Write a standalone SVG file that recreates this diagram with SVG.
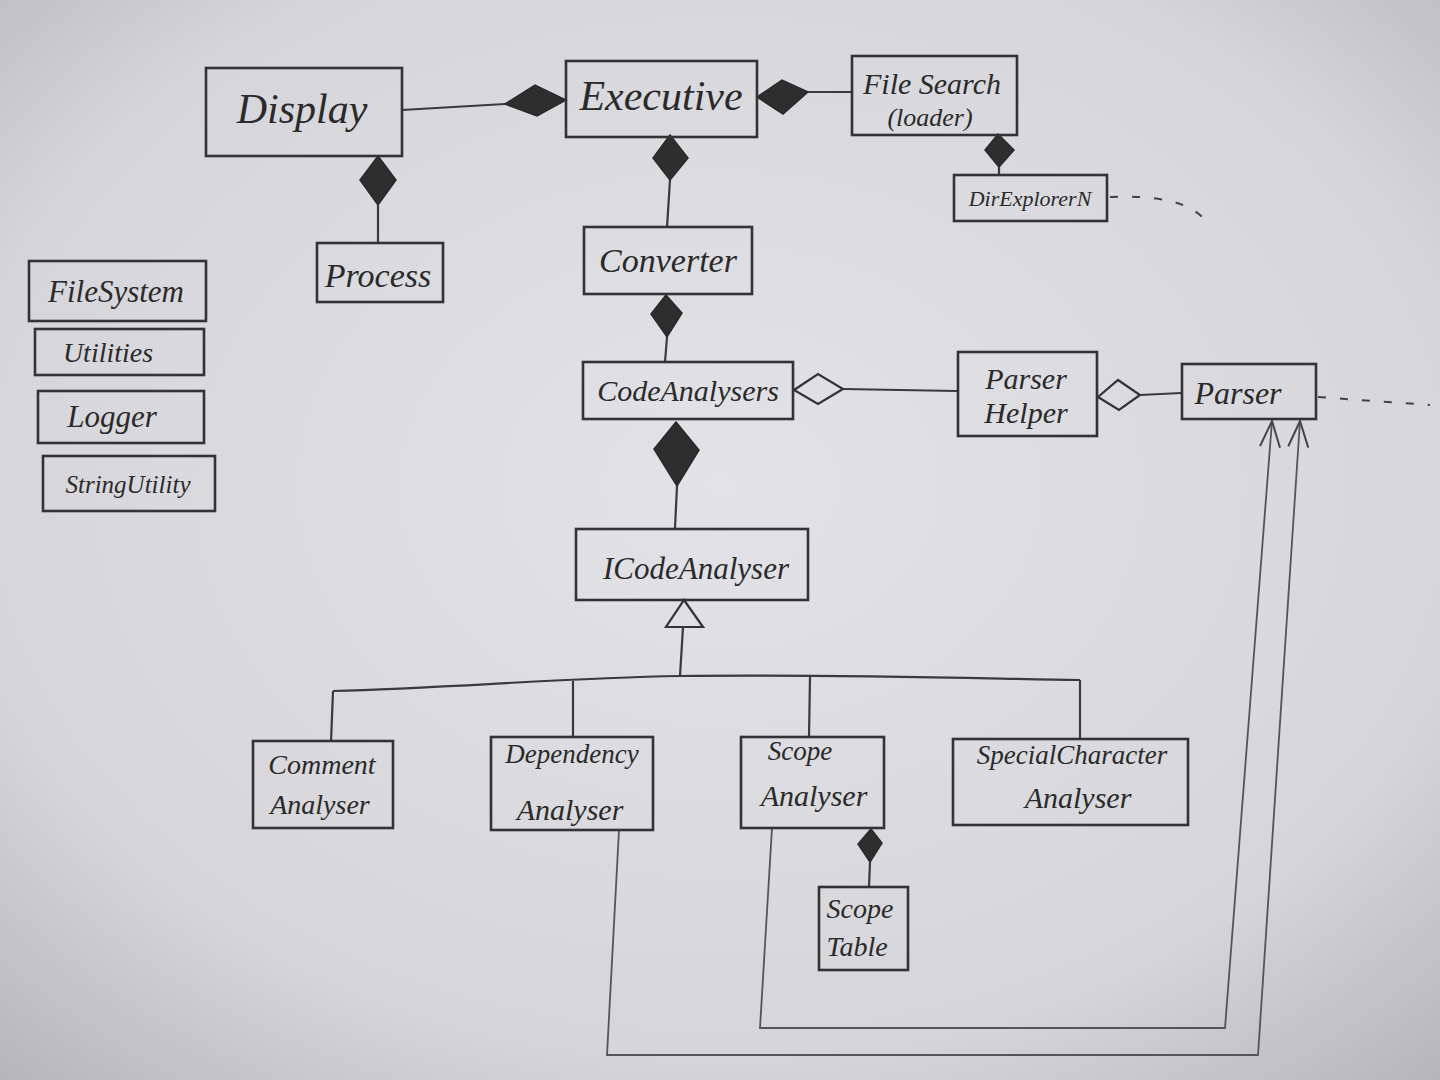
<svg xmlns="http://www.w3.org/2000/svg" width="1440" height="1080" viewBox="0 0 1440 1080">
<defs>
<radialGradient id="paper" cx="50%" cy="45%" r="75%">
<stop offset="0" stop-color="#e2e2e7"/>
<stop offset="0.7" stop-color="#d5d5da"/>
<stop offset="1" stop-color="#b4b4b9"/>
</radialGradient>
<marker id="openArrow" viewBox="0 0 30 24" refX="28" refY="12" markerWidth="30" markerHeight="24" markerUnits="userSpaceOnUse" orient="auto">
<path d="M2,2 L28,12 L2,22" fill="none" stroke="#444" stroke-width="2"/>
</marker>
</defs>
<style>
.box{fill:none;stroke:#333;stroke-width:2.6}
.t{font-family:"Liberation Serif",serif;font-style:italic;fill:#2a2a2a;text-anchor:middle}
.ln{fill:none;stroke:#3a3a3a;stroke-width:2.2}
.thin{fill:none;stroke:#555;stroke-width:1.8}
.dash{fill:none;stroke:#444;stroke-width:2;stroke-dasharray:8 14}
.fd{fill:#2e2e2e;stroke:#2a2a2a;stroke-width:1.5}
.od{fill:none;stroke:#333;stroke-width:2.2}
</style>
<rect width="1440" height="1080" fill="url(#paper)"/>

<g id="connectors">
<path class="ln" d="M402,110 L505,104"/>
<path class="fd" d="M505,104 L535,85 L566,100 L537,116 Z"/>
<path class="fd" d="M757,97 L782,80 L808,92 L783,114 Z"/>
<path class="ln" d="M808,92 L851,92"/>
<path class="fd" d="M378,156 L396,180 L378,205 L360,180 Z"/>
<path class="ln" d="M378,205 L378,243"/>
<path class="fd" d="M670,135 L688,158 L670,180 L653,158 Z"/>
<path class="ln" d="M670,180 L667,227"/>
<path class="fd" d="M998,134 L1014,150 L999,167 L985,150 Z"/>
<path class="ln" d="M999,167 L999,175"/>
<path class="dash" d="M1110,197 C1150,195 1195,200 1208,225"/>
<path class="fd" d="M666,295 L682,313 L667,337 L651,314 Z"/>
<path class="ln" d="M667,337 L665,362"/>
<path class="od" d="M794,390 L818,374 L843,389 L818,404 Z"/>
<path class="ln" d="M843,389 L957,391"/>
<path class="od" d="M1098,397 L1118,380 L1140,395 L1119,410 Z"/>
<path class="ln" d="M1140,395 L1181,393"/>
<path class="dash" d="M1318,397 L1430,405"/>
<path class="fd" d="M676,422 L699,450 L677,486 L654,449 Z"/>
<path class="ln" d="M677,486 L675,528"/>
<path class="od" d="M684,600 L703,627 L666,627 Z"/>
<path class="ln" d="M683,627 L680,676"/>
<path class="ln" d="M333,691 C450,688 560,678 680,676 C820,674 960,678 1080,680"/>
<path class="ln" d="M333,691 L331,742"/>
<path class="ln" d="M573,681 L573,737"/>
<path class="ln" d="M810,677 L809,737"/>
<path class="ln" d="M1080,680 L1080,740"/>
<path class="fd" d="M871,829 L882,843 L870,862 L858,844 Z"/>
<path class="ln" d="M870,862 L869,887"/>
<path class="thin" d="M772,828 L760,1028 L1225,1028 L1272,421" marker-end="url(#openArrow)"/>
<path class="thin" d="M619,830 L607,1055 L1258,1055 L1300,421" marker-end="url(#openArrow)"/>
</g>

<g id="Display"><rect class="box" x="206" y="68" width="196" height="88"/><text class="t" x="302" y="123" font-size="42">Display</text></g>
<g id="Executive"><rect class="box" x="566" y="61" width="191" height="76"/><text class="t" x="661" y="110" font-size="42">Executive</text></g>
<g id="FileSearch"><rect class="box" x="852" y="56" width="165" height="79"/><text class="t" x="932" y="94" font-size="30">File Search</text><text class="t" x="930" y="126" font-size="26">(loader)</text></g>
<g id="DirExplorerN"><rect class="box" x="954" y="175" width="153" height="46"/><text class="t" x="1030" y="206" font-size="22">DirExplorerN</text></g>
<g id="Process"><rect class="box" x="317" y="243" width="126" height="59"/><text class="t" x="378" y="287" font-size="34">Process</text></g>
<g id="Converter"><rect class="box" x="584" y="227" width="168" height="67"/><text class="t" x="668" y="272" font-size="34">Converter</text></g>
<g id="FileSystem"><rect class="box" x="29" y="261" width="177" height="60"/><text class="t" x="116" y="302" font-size="31">FileSystem</text></g>
<g id="Utilities"><rect class="box" x="35" y="329" width="169" height="46"/><text class="t" x="108" y="362" font-size="28">Utilities</text></g>
<g id="Logger"><rect class="box" x="38" y="391" width="166" height="52"/><text class="t" x="112" y="427" font-size="31">Logger</text></g>
<g id="StringUtility"><rect class="box" x="43" y="456" width="172" height="55"/><text class="t" x="128" y="493" font-size="25">StringUtility</text></g>
<g id="CodeAnalysers"><rect class="box" x="583" y="362" width="210" height="57"/><text class="t" x="688" y="401" font-size="30">CodeAnalysers</text></g>
<g id="ParserHelper"><rect class="box" x="958" y="352" width="139" height="84"/><text class="t" x="1026" y="389" font-size="30">Parser</text><text class="t" x="1026" y="423" font-size="30">Helper</text></g>
<g id="Parser"><rect class="box" x="1182" y="364" width="134" height="55"/><text class="t" x="1238" y="404" font-size="32">Parser</text></g>
<g id="ICodeAnalyser"><rect class="box" x="576" y="529" width="232" height="71"/><text class="t" x="696" y="579" font-size="31" fill="#555">ICodeAnalyser</text></g>
<g id="CommentAnalyser"><rect class="box" x="253" y="741" width="140" height="87"/><text class="t" x="322" y="774" font-size="28">Comment</text><text class="t" x="320" y="814" font-size="28">Analyser</text></g>
<g id="DependencyAnalyser"><rect class="box" x="491" y="737" width="162" height="93"/><text class="t" x="572" y="763" font-size="27">Dependency</text><text class="t" x="570" y="820" font-size="30">Analyser</text></g>
<g id="ScopeAnalyser"><rect class="box" x="741" y="737" width="143" height="91"/><text class="t" x="800" y="760" font-size="27">Scope</text><text class="t" x="814" y="806" font-size="30">Analyser</text></g>
<g id="SpecialCharacterAnalyser"><rect class="box" x="953" y="739" width="235" height="86"/><text class="t" x="1072" y="764" font-size="27">SpecialCharacter</text><text class="t" x="1078" y="808" font-size="30">Analyser</text></g>
<g id="ScopeTable"><rect class="box" x="819" y="887" width="89" height="83"/><text class="t" x="860" y="918" font-size="28">Scope</text><text class="t" x="857" y="956" font-size="28">Table</text></g>
</svg>
